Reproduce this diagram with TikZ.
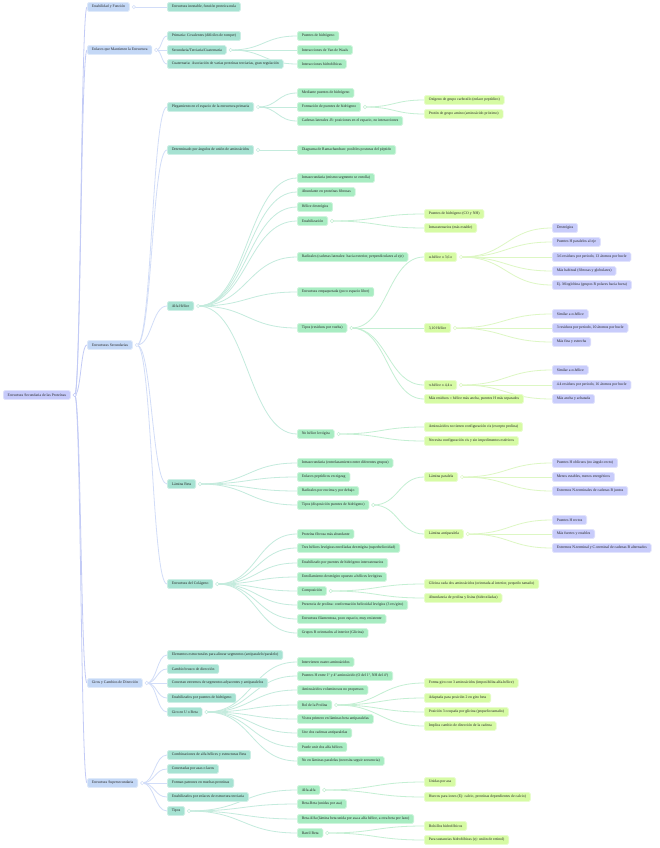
\documentclass[tikz,border=0pt]{standalone}
\usepackage{fontspec}
\setmainfont{Liberation Serif}
\usetikzlibrary{calc,backgrounds}
\definecolor{cRoot}{HTML}{C6CAFA}
\definecolor{cL1}{HTML}{C4D8F6}
\definecolor{cL2}{HTML}{A6E2D2}
\definecolor{cL3}{HTML}{A8ECC2}
\definecolor{cL4}{HTML}{D6FBA4}
\definecolor{cL5}{HTML}{C8CCFB}
\definecolor{kRoot}{HTML}{C3CBF6}
\definecolor{kL1}{HTML}{D2DDF8}
\definecolor{kL2}{HTML}{C4EBDD}
\definecolor{kL3}{HTML}{C4EFD3}
\definecolor{kL4}{HTML}{DDF7C4}
\tikzset{
  box/.style={anchor=west, rounded corners=1.6pt, minimum height=9pt, inner xsep=4.4pt, inner ysep=0pt,
    font=\fontsize{3.8pt}{4.5pt}\selectfont, text=black!85, line width=0.7pt},
  rootbox/.style={box, fill=cRoot, draw=cRoot!55!white},
  lone/.style={box, fill=cL1, draw=cL1!55!white},
  ltwo/.style={box, fill=cL2, draw=cL2!55!white},
  lthree/.style={box, fill=cL3, draw=cL3!55!white},
  lfour/.style={box, fill=cL4, draw=cL4!55!white},
  lfive/.style={box, fill=cL5, draw=cL5!55!white},
  dotc/.style={circle, minimum size=3.4pt, inner sep=0pt, line width=0.5pt, fill=white},
  kroot/.style={draw=kRoot, line width=0.8pt},
  kone/.style={draw=kL1, line width=0.8pt},
  ktwo/.style={draw=kL2, line width=0.8pt},
  kthree/.style={draw=kL3, line width=0.8pt},
  kfour/.style={draw=kL4, line width=0.8pt},
}
\newcommand\lk[3]{\draw[#3] let \p1=(#1), \p2=(#2.west) in (\p1) .. controls ({(\x1+\x2)/2},\y1) and ({(\x1+\x2)/2},\y2) .. (\p2);}
\newcommand\dt[3]{\node[dotc, draw=#3] (#1) at ([xshift=4pt]#2.east) {};}
\newcommand\subn[1]{\raisebox{-0.5pt}{\fontsize{2.7pt}{3pt}\selectfont #1}}
\begin{document}
\begin{tikzpicture}[x=1pt,y=-1pt]
\useasboundingbox (0,0) rectangle (660,848);
% root
\node[rootbox] (r) at (3,395) {Estructura Secundaria de las Proteínas};
\dt{dr}{r}{kRoot}
% level 1
\node[lone] (a1) at (87,7) {Estabilidad y Función};
\node[lone] (a2) at (87,50) {Enlaces que Mantienen la Estructura};
\node[lone] (a3) at (87,345) {Estructuras Secundarias};
\node[lone] (a4) at (87,683) {Giros y Cambios de Dirección};
\node[lone] (a5) at (87,783) {Estructura Supersecundaria};
\dt{da1}{a1}{kL1}\dt{da2}{a2}{kL1}\dt{da3}{a3}{kL1}\dt{da4}{a4}{kL1}\dt{da5}{a5}{kL1}
% level 2
\node[ltwo] (b11) at (167,7) {Estructura inestable, función proteica nula};
\node[ltwo] (b21) at (167,36) {Primaria: Covalentes (difíciles de romper)};
\node[ltwo] (b22) at (167,50) {Secundaria/Terciaria/Cuaternaria};
\node[ltwo] (b23) at (167,64) {Cuaternaria: Asociación de varias proteínas terciarias, gran regulación};
\node[ltwo] (b31) at (167,107) {Plegamiento en el espacio de la estructura primaria};
\node[ltwo] (b32) at (167,150) {Determinado por ángulos de unión de aminoácidos};
\node[ltwo] (b33) at (167,306) {Alfa Hélice};
\node[ltwo] (b34) at (167,484) {Lámina Beta};
\node[ltwo] (b35) at (167,584) {Estructura del Colágeno};
\node[ltwo] (b41) at (167,655) {Elementos estructurales para alinear segmentos (antiparalelo/paralelo)};
\node[ltwo] (b42) at (167,669) {Cambio brusco de dirección};
\node[ltwo] (b43) at (167,683) {Conectan extremos de segmentos adyacentes y antiparalelos};
\node[ltwo] (b44) at (167,698) {Estabilizados por puentes de hidrógeno};
\node[ltwo] (b45) at (167,712) {Giro en U o Beta};
\node[ltwo] (b51) at (167,755) {Combinaciones de alfa hélices y estructuras Beta};
\node[ltwo] (b52) at (167,769) {Conectadas por asas o lazos};
\node[ltwo] (b53) at (167,783) {Forman patrones en muchas proteínas};
\node[ltwo] (b54) at (167,797) {Estabilizados por enlaces de estructura terciaria};
\node[ltwo] (b55) at (167,811) {Tipos};
\dt{db22}{b22}{kL2}\dt{db31}{b31}{kL2}\dt{db32}{b32}{kL2}\dt{db33}{b33}{kL2}\dt{db34}{b34}{kL2}\dt{db35}{b35}{kL2}\dt{db45}{b45}{kL2}\dt{db55}{b55}{kL2}
% level 3
\node[lthree] (c221) at (297,36) {Puentes de hidrógeno};
\node[lthree] (c222) at (297,50) {Interacciones de Van de Waals};
\node[lthree] (c223) at (297,64) {Interacciones hidrofóbicas};
\node[lthree] (c311) at (297,93) {Mediante puentes de hidrógeno};
\node[lthree] (c312) at (297,107) {Formación de puentes de hidrógeno};
\node[lthree] (c313) at (297,121) {Cadenas laterales -R: posiciones en el espacio, no interacciones};
\node[lthree] (c321) at (297,150) {Diagrama de Ramachandran: posibles posturas del péptido};
\node[lthree] (c331) at (297,178) {Intrasecundaria (mismo segmento se enrolla)};
\node[lthree] (c332) at (297,192) {Abundante en proteínas fibrosas};
\node[lthree] (c333) at (297,207) {Hélice dextrógira};
\node[lthree] (c334) at (297,221) {Estabilización};
\node[lthree] (c335) at (297,257) {Radicales (cadenas laterales: hacia exterior, perpendiculares al eje)};
\node[lthree] (c336) at (297,292) {Estructura empaquetada (poco espacio libre)};
\node[lthree] (c337) at (297,328) {Tipos (residuos por vuelta)};
\node[lthree] (c338) at (297,434) {No hélice levógira};
\node[lthree] (c341) at (297,463) {Intrasecundaria (entrelazamiento entre diferentes grupos)};
\node[lthree] (c342) at (297,477) {Enlaces peptídicos en zigzag};
\node[lthree] (c343) at (297,491) {Radicales por encima y por debajo};
\node[lthree] (c344) at (297,505) {Tipos (disposición puentes de hidrógeno)};
\node[lthree] (c351) at (297,534) {Proteína fibrosa más abundante};
\node[lthree] (c352) at (297,548) {Tres hélices levógiras enrolladas dextrógira (superhelicoidad)};
\node[lthree] (c353) at (297,563) {Estabilizado por puentes de hidrógeno intercatenarios};
\node[lthree] (c354) at (297,577) {Enrollamiento dextrógiro opuesto a hélices levógiras};
\node[lthree] (c355) at (297,591) {Composición};
\node[lthree] (c356) at (297,605) {Presencia de prolina: conformación helicoidal levógira (3 res/giro)};
\node[lthree] (c357) at (297,619) {Estructura filamentosa, poco espacio, muy resistente};
\node[lthree] (c358) at (297,633) {Grupos R orientados al interior (Glicina)};
\node[lthree] (c451) at (297,662) {Intervienen cuatro aminoácidos};
\node[lthree] (c452) at (297,676) {Puentes H entre 1º y 4º aminoácido (O del 1º, NH del 4º)};
\node[lthree] (c453) at (297,690) {Aminoácidos voluminosos no propensos};
\node[lthree] (c454) at (297,705) {Rol de la Prolina};
\node[lthree] (c455) at (297,719) {Vistos primero en láminas beta antiparalelas};
\node[lthree] (c456) at (297,733) {Une dos cadenas antiparalelas};
\node[lthree] (c457) at (297,747) {Puede unir dos alfa hélices};
\node[lthree] (c458) at (297,761) {No en láminas paralelas (necesita seguir secuencia)};
\node[lthree] (c551) at (297,790) {Alfa-alfa};
\node[lthree] (c552) at (297,804) {Beta-Beta (unidas por asa)};
\node[lthree] (c553) at (297,819) {Beta-Alfa (lámina beta unida por asa a alfa hélice, a otra beta por lazo)};
\node[lthree] (c554) at (297,833) {Barril Beta};
\dt{dc312}{c312}{kL3}\dt{dc334}{c334}{kL3}\dt{dc337}{c337}{kL3}\dt{dc338}{c338}{kL3}\dt{dc344}{c344}{kL3}\dt{dc355}{c355}{kL3}\dt{dc454}{c454}{kL3}\dt{dc551}{c551}{kL3}\dt{dc554}{c554}{kL3}
% level 4
\node[lfour] (d3121) at (424,100) {Oxígeno de grupo carboxilo (enlace peptídico)};
\node[lfour] (d3122) at (424,114) {Protón de grupo amino (aminoácido próximo)};
\node[lfour] (d3341) at (424,214) {Puentes de hidrógeno (CO y NH)};
\node[lfour] (d3342) at (424,228) {Intracatenarios (más estable)};
\node[lfour] (d3371) at (424,257) {α-hélice o 3,6\subn{13}};
\node[lfour] (d3372) at (424,328) {3,10 Hélice};
\node[lfour] (d3373) at (424,385) {π-hélice o 4,4\subn{16}};
\node[lfour] (d3374) at (424,399) {Más residuos = hélice más ancha, puentes H más separados};
\node[lfour] (d3381) at (424,427) {Aminoácidos no tienen configuración cis (excepto prolina)};
\node[lfour] (d3382) at (424,441) {Necesita configuración cis y sin impedimentos estéricos};
\node[lfour] (d3441) at (424,477) {Lámina paralela};
\node[lfour] (d3442) at (424,534) {Lámina antiparalela};
\node[lfour] (d3551) at (424,584) {Glicina cada dos aminoácidos (orientada al interior, pequeño tamaño)};
\node[lfour] (d3552) at (424,598) {Abundancia de prolina y lisina (hidroxiladas)};
\node[lfour] (d4541) at (424,683) {Forma giro con 3 aminoácidos (imposibilita alfa-hélice)};
\node[lfour] (d4542) at (424,698) {Adaptada para posición 2 en giro beta};
\node[lfour] (d4543) at (424,712) {Posición 3 ocupada por glicina (pequeño tamaño)};
\node[lfour] (d4544) at (424,726) {Implica cambio de dirección de la cadena};
\node[lfour] (d5511) at (424,782) {Unidas por asa};
\node[lfour] (d5512) at (424,797) {Huecos para iones (Ej: calcio, proteínas dependientes de calcio)};
\node[lfour] (d5541) at (424,826) {Bolsillos hidrofóbicos};
\node[lfour] (d5542) at (424,840) {Para sustancias hidrofóbicas (ej: unión de retinol)};
\dt{dd3371}{d3371}{kL4}\dt{dd3372}{d3372}{kL4}\dt{dd3373}{d3373}{kL4}\dt{dd3441}{d3441}{kL4}\dt{dd3442}{d3442}{kL4}
% level 5
\node[lfive] (e1) at (552,228) {Dextrógira};
\node[lfive] (e2) at (552,242) {Puentes H paralelos al eje};
\node[lfive] (e3) at (552,257) {3.6 residuos por periodo, 13 átomos por bucle};
\node[lfive] (e4) at (552,271) {Más habitual (fibrosas y globulares)};
\node[lfive] (e5) at (552,285) {Ej. Mioglobina (grupos R polares hacia fuera)};
\node[lfive] (f1) at (552,314) {Similar a α-hélice};
\node[lfive] (f2) at (552,328) {3 residuos por periodo, 10 átomos por bucle};
\node[lfive] (f3) at (552,342) {Más fina y estrecha};
\node[lfive] (g1) at (552,370) {Similar a α-hélice};
\node[lfive] (g2) at (552,385) {4.4 residuos por periodo, 16 átomos por bucle};
\node[lfive] (g3) at (552,399) {Más ancha y achatada};
\node[lfive] (h1) at (552,463) {Puentes H oblicuos (no ángulo recto)};
\node[lfive] (h2) at (552,477) {Menos estables, menos energéticos};
\node[lfive] (h3) at (552,491) {Extremos N-terminales de cadenas B juntos};
\node[lfive] (i1) at (552,520) {Puentes H rectos};
\node[lfive] (i2) at (552,534) {Más fuertes y estables};
\node[lfive] (i3) at (552,548) {Extremos N-terminal y C-terminal de cadenas B alternados};
% connectors
\begin{pgfonlayer}{background}
\fill[white] (0,0) rectangle (660,848);
\foreach \c in {a1,a2,a3,a4,a5} {\lk{dr}{\c}{kroot}}
\lk{da1}{b11}{kone}
\foreach \c in {b21,b22,b23} {\lk{da2}{\c}{kone}}
\foreach \c in {b31,b32,b33,b34,b35} {\lk{da3}{\c}{kone}}
\foreach \c in {b41,b42,b43,b44,b45} {\lk{da4}{\c}{kone}}
\foreach \c in {b51,b52,b53,b54,b55} {\lk{da5}{\c}{kone}}
\foreach \c in {c221,c222,c223} {\lk{db22}{\c}{ktwo}}
\foreach \c in {c311,c312,c313} {\lk{db31}{\c}{ktwo}}
\lk{db32}{c321}{ktwo}
\foreach \c in {c331,c332,c333,c334,c335,c336,c337,c338} {\lk{db33}{\c}{ktwo}}
\foreach \c in {c341,c342,c343,c344} {\lk{db34}{\c}{ktwo}}
\foreach \c in {c351,c352,c353,c354,c355,c356,c357,c358} {\lk{db35}{\c}{ktwo}}
\foreach \c in {c451,c452,c453,c454,c455,c456,c457,c458} {\lk{db45}{\c}{ktwo}}
\foreach \c in {c551,c552,c553,c554} {\lk{db55}{\c}{ktwo}}
\foreach \c in {d3121,d3122} {\lk{dc312}{\c}{kthree}}
\foreach \c in {d3341,d3342} {\lk{dc334}{\c}{kthree}}
\foreach \c in {d3371,d3372,d3373,d3374} {\lk{dc337}{\c}{kthree}}
\foreach \c in {d3381,d3382} {\lk{dc338}{\c}{kthree}}
\foreach \c in {d3441,d3442} {\lk{dc344}{\c}{kthree}}
\foreach \c in {d3551,d3552} {\lk{dc355}{\c}{kthree}}
\foreach \c in {d4541,d4542,d4543,d4544} {\lk{dc454}{\c}{kthree}}
\foreach \c in {d5511,d5512} {\lk{dc551}{\c}{kthree}}
\foreach \c in {d5541,d5542} {\lk{dc554}{\c}{kthree}}
\foreach \c in {e1,e2,e3,e4,e5} {\lk{dd3371}{\c}{kfour}}
\foreach \c in {f1,f2,f3} {\lk{dd3372}{\c}{kfour}}
\foreach \c in {g1,g2,g3} {\lk{dd3373}{\c}{kfour}}
\foreach \c in {h1,h2,h3} {\lk{dd3441}{\c}{kfour}}
\foreach \c in {i1,i2,i3} {\lk{dd3442}{\c}{kfour}}
\end{pgfonlayer}
\end{tikzpicture}
\end{document}
